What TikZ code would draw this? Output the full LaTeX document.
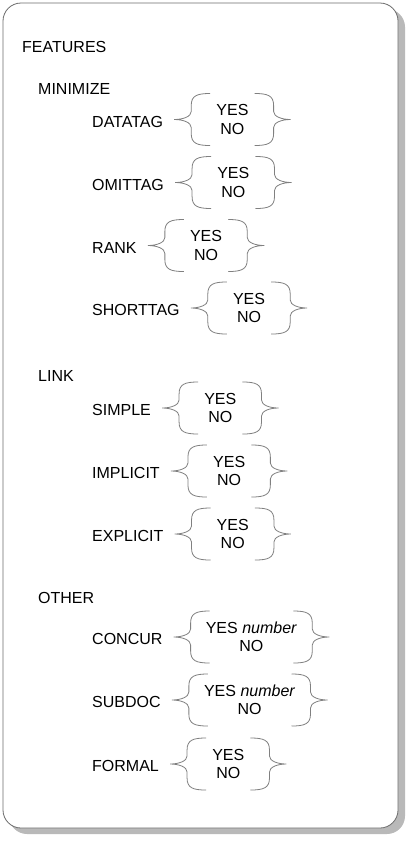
\documentclass[tikz,border=0pt]{standalone}
\usepackage{fontspec}
\setmainfont{Liberation Sans}
\usetikzlibrary{positioning}

\begin{document}
\begin{tikzpicture}[x=1pt,y=-1pt,
  every node/.style={font=\fontsize{16}{18.5}\selectfont,inner sep=0pt},
  item/.style={anchor=west},
  opts/.style={align=center,minimum width=82pt,minimum height=52pt,inner xsep=15pt,yshift=2pt},
  brace/.style={draw=gray,line width=0.8pt}]
\useasboundingbox (0,0) rectangle (412,844);
% frame and its shadow
\fill[gray!55,rounded corners=18pt] (9,9) rectangle (405,834);
\draw[gray!85!black,fill=white,rounded corners=18pt,line width=0.8pt] (3,3) rectangle (398,828);

\node[item] (features) at (22,47) {FEATURES};

\node[item] (minimize) at (38,89) {MINIMIZE};
\node[item] (datatag) at (92,121.5) {DATATAG};
\node[opts,right=28pt of datatag] (datatag-opts) {YES\\NO};
\node[item] (omittag) at (92,184.5) {OMITTAG};
\node[opts,right=28pt of omittag] (omittag-opts) {YES\\NO};
\node[item] (rank) at (92,247.5) {RANK};
\node[opts,right=28pt of rank] (rank-opts) {YES\\NO};
\node[item] (shorttag) at (92,310) {SHORTTAG};
\node[opts,right=28pt of shorttag] (shorttag-opts) {YES\\NO};

\node[item] (link) at (38,376) {LINK};
\node[item] (simple) at (92,410) {SIMPLE};
\node[opts,right=28pt of simple] (simple-opts) {YES\\NO};
\node[item] (implicit) at (92,473) {IMPLICIT};
\node[opts,right=28pt of implicit] (implicit-opts) {YES\\NO};
\node[item] (explicit) at (92,536) {EXPLICIT};
\node[opts,right=28pt of explicit] (explicit-opts) {YES\\NO};

\node[item] (other) at (38,598) {OTHER};
\node[item] (concur) at (92,639) {CONCUR};
\node[opts,right=28pt of concur] (concur-opts) {YES \textit{number}\\NO};
\node[item] (subdoc) at (92,702) {SUBDOC};
\node[opts,right=28pt of subdoc] (subdoc-opts) {YES \textit{number}\\NO};
\node[item] (formal) at (92,766) {FORMAL};
\node[opts,right=28pt of formal] (formal-opts) {YES\\NO};

% curly braces round every choice
\foreach \n in {datatag,omittag,rank,shorttag,simple,implicit,explicit,concur,subdoc,formal}{
  \draw[brace,shift={(\n-opts.west)}] (19,26) .. controls (6,26) and (0,24) .. (0,14) -- (0,8)
    .. controls (0,3) and (-8,0) .. (-17,0) .. controls (-8,0) and (0,-3) .. (0,-8) -- (0,-14)
    .. controls (0,-24) and (6,-26) .. (19,-26);
  \draw[brace,shift={(\n-opts.east)},xscale=-1] (19,26) .. controls (6,26) and (0,24) .. (0,14) -- (0,8)
    .. controls (0,3) and (-8,0) .. (-17,0) .. controls (-8,0) and (0,-3) .. (0,-8) -- (0,-14)
    .. controls (0,-24) and (6,-26) .. (19,-26);
}
\end{tikzpicture}
\end{document}
